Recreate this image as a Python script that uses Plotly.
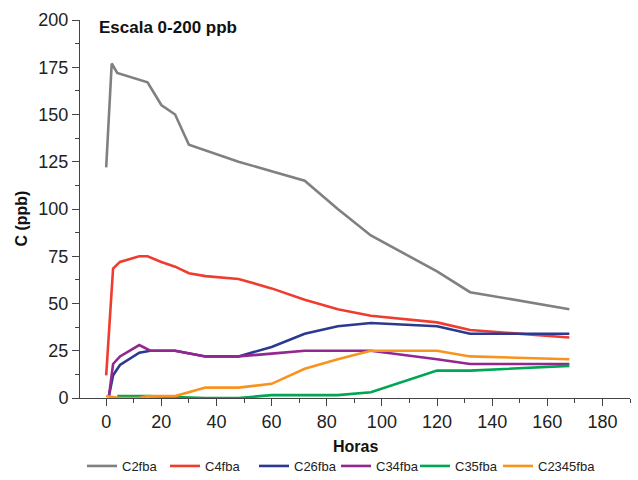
import plotly.graph_objects as go

series_names = ["C2fba", "C4fba", "C26fba", "C34fba", "C35fba", "C2345fba"]
colors = ["#808080", "#f03c2e", "#2b3990", "#92278f", "#00a651", "#f7941d"]

x_c2 = [0, 2, 4, 15, 20, 25, 30, 36, 48, 60, 72, 84, 96, 120, 132, 168]
y_c2 = [122, 177, 172, 167, 155, 150, 134, 131, 125, 120, 115, 100, 86, 67, 56, 47]

x_c4 = [0, 2.5, 5, 12, 15, 20, 25, 30, 36, 48, 60, 72, 84, 96, 120, 132, 168]
y_c4 = [12, 68.5, 72, 75, 75, 72, 69.5, 66, 64.5, 63, 58, 52, 47, 43.5, 40, 36, 32]

x_c26 = [1, 2.5, 5, 12, 16, 25, 36, 48, 60, 72, 84, 96, 120, 132, 168]
y_c26 = [1, 12, 17.5, 24, 25, 25, 22, 22, 27, 34, 38, 39.7, 38, 34, 34]

x_c34 = [1, 2.5, 5, 12, 16, 25, 36, 48, 60, 72, 84, 96, 120, 132, 168]
y_c34 = [1, 18, 22, 28, 25, 25, 22, 22, 23.5, 25, 25, 25, 20.5, 18, 18]

x_c35 = [4, 12, 15, 25, 36, 48, 60, 72, 84, 96, 120, 132, 168]
y_c35 = [1, 1, 1, 0.5, 0, 0, 1.5, 1.5, 1.5, 3, 14.5, 14.5, 17]

x_c2345 = [0, 5, 12, 15, 25, 36, 48, 60, 72, 84, 96, 120, 132, 168]
y_c2345 = [1, 0, 0, 1, 1, 5.5, 5.5, 7.5, 15.5, 20.5, 25, 25, 22, 20.5]

xs = [x_c2, x_c4, x_c26, x_c34, x_c35, x_c2345]
ys = [y_c2, y_c4, y_c26, y_c34, y_c35, y_c2345]

legend_widths = [38, 44, 37, 34, 38, 75]

FONT = "Liberation Sans Narrow, Arial Narrow, Liberation Sans, sans-serif"
BOLD = "Liberation Sans, Arial, sans-serif"

fig = go.Figure()
for name, c, x, y, lw in zip(series_names, colors, xs, ys, legend_widths):
    fig.add_trace(go.Scatter(x=x, y=y, mode="lines", name=name, legendwidth=lw,
                             line=dict(color=c, width=2.6)))

fig.update_layout(
    width=638, height=480,
    margin=dict(l=80, r=8, t=20, b=82, autoexpand=False),
    plot_bgcolor="white", paper_bgcolor="white",
    font=dict(family=FONT, color="#222", size=16),
    showlegend=True,
    legend=dict(orientation="h", x=82 / 638, xanchor="left", xref="container",
                y=1 - 466 / 480, yanchor="middle", yref="container",
                font=dict(size=13, family=FONT), itemwidth=30,
                traceorder="normal", tracegroupgap=0),
)
fig.add_annotation(text="<b>Escala 0-200 ppb</b>", xref="paper", yref="paper",
                   x=0.03, y=0.98, xanchor="left", yanchor="middle", showarrow=False,
                   font=dict(family=BOLD, size=17, color="#111"))
# axis titles
fig.add_annotation(text="<b>Horas</b>", xref="paper", yref="paper",
                   x=0.5, y=-0.127, xanchor="center", yanchor="middle", showarrow=False,
                   font=dict(family=BOLD, size=16, color="#111"))
fig.add_annotation(text="<b>C (ppb)</b>", xref="paper", yref="paper",
                   x=-0.107, y=0.475, xanchor="center", yanchor="middle", showarrow=False,
                   textangle=-90, font=dict(family=BOLD, size=16, color="#111"))

fig.update_xaxes(range=[-9.5, 190], tickvals=list(range(0, 181, 20)),
                 showgrid=False, zeroline=False, showline=True, linecolor="#444", linewidth=1,
                 ticks="outside", ticklen=7, tickcolor="#444", automargin=False,
                 minor=dict(tickvals=list(range(10, 191, 20)), ticks="outside", ticklen=4, tickcolor="#444"),
                 tickfont=dict(size=18))
fig.update_yaxes(range=[0, 200], tickvals=list(range(0, 201, 25)),
                 showgrid=False, zeroline=False, showline=True, linecolor="#444", linewidth=1,
                 ticks="outside", ticklen=7, tickcolor="#444", automargin=False,
                 minor=dict(tickvals=[12.5 + 25 * i for i in range(8)], ticks="outside", ticklen=4, tickcolor="#444"),
                 tickfont=dict(size=18))

fig.write_html("out.html")
